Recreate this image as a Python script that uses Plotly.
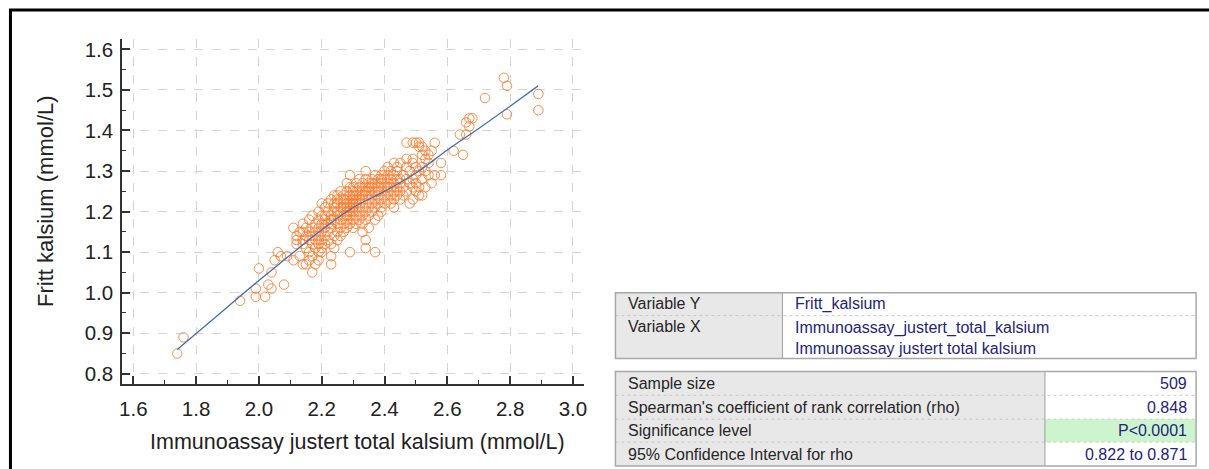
import plotly.graph_objects as go

W, H = 1209, 469

# ---- scatter data: y level (mmol/L) and the x values observed at that level ----
y_levels = [1.53, 1.51, 1.49, 1.48, 1.45, 1.44, 1.43, 1.42, 1.41, 1.39,
            1.37, 1.36, 1.35, 1.34, 1.33, 1.32, 1.31, 1.30, 1.29, 1.28,
            1.27, 1.26, 1.25, 1.24, 1.23, 1.22, 1.21, 1.20, 1.19, 1.18,
            1.17, 1.16, 1.15, 1.14, 1.13, 1.12, 1.11, 1.10, 1.09, 1.08,
            1.07, 1.06, 1.05, 1.02, 1.01, 0.99, 0.98, 0.89, 0.85]
x_at_level = [
    [2.78], [2.79], [2.89], [2.72], [2.89], [2.79], [2.67, 2.68], [2.66], [2.67],
    [2.64, 2.66],
    [2.47, 2.49, 2.50, 2.51, 2.56],
    [2.51, 2.52],
    [2.53, 2.55, 2.62],
    [2.52, 2.54, 2.65],
    [2.47, 2.49, 2.53],
    [2.43, 2.45, 2.49, 2.54, 2.58],
    [2.41, 2.44, 2.47, 2.50, 2.52],
    [2.34, 2.40, 2.42, 2.44, 2.48, 2.51, 2.53],
    [2.29, 2.37, 2.39, 2.41, 2.43, 2.46, 2.50, 2.54, 2.56, 2.58],
    [2.32, 2.34, 2.36, 2.38, 2.39, 2.40, 2.42, 2.44, 2.45, 2.47, 2.49, 2.52],
    [2.28, 2.31, 2.33, 2.35, 2.36, 2.37, 2.39, 2.41, 2.43, 2.45, 2.48, 2.50, 2.55],
    [2.29, 2.30, 2.32, 2.34, 2.35, 2.36, 2.38, 2.40, 2.41, 2.42, 2.44, 2.46, 2.49, 2.51, 2.53],
    [2.26, 2.28, 2.30, 2.31, 2.33, 2.34, 2.35, 2.37, 2.38, 2.39, 2.41, 2.43, 2.45, 2.47, 2.50],
    [2.24, 2.25, 2.27, 2.29, 2.30, 2.31, 2.32, 2.33, 2.34, 2.36, 2.38, 2.40, 2.42, 2.44, 2.46, 2.51, 2.52],
    [2.23, 2.25, 2.26, 2.27, 2.28, 2.30, 2.31, 2.32, 2.33, 2.35, 2.37, 2.39, 2.41, 2.43, 2.45, 2.49],
    [2.20, 2.22, 2.24, 2.25, 2.27, 2.28, 2.29, 2.30, 2.31, 2.32, 2.34, 2.36, 2.38, 2.40, 2.42, 2.48],
    [2.21, 2.24, 2.26, 2.27, 2.28, 2.29, 2.30, 2.31, 2.33, 2.35, 2.37, 2.39, 2.43],
    [2.19, 2.22, 2.24, 2.25, 2.26, 2.28, 2.29, 2.30, 2.32, 2.34, 2.36, 2.39],
    [2.17, 2.20, 2.21, 2.23, 2.25, 2.27, 2.28, 2.29, 2.31, 2.33, 2.35, 2.38],
    [2.16, 2.19, 2.21, 2.23, 2.24, 2.26, 2.28, 2.30, 2.32, 2.34, 2.37],
    [2.14, 2.18, 2.20, 2.22, 2.23, 2.25, 2.27, 2.29, 2.31, 2.33],
    [2.11, 2.15, 2.17, 2.19, 2.21, 2.23, 2.26, 2.28, 2.30, 2.35],
    [2.13, 2.14, 2.16, 2.18, 2.20, 2.22, 2.25, 2.27, 2.33],
    [2.12, 2.15, 2.17, 2.19, 2.21, 2.24, 2.26],
    [2.12, 2.14, 2.16, 2.18, 2.20, 2.22, 2.25, 2.34],
    [2.12, 2.14, 2.17, 2.19, 2.21, 2.23],
    [2.15, 2.18, 2.20, 2.24, 2.34],
    [2.06, 2.16, 2.19, 2.20, 2.29, 2.37],
    [2.07, 2.09, 2.13, 2.17, 2.23],
    [2.05, 2.11, 2.16, 2.19],
    [2.14, 2.15, 2.18, 2.23],
    [2.00],
    [2.04, 2.17],
    [2.03, 2.08],
    [1.99, 2.04],
    [1.99, 2.02],
    [1.94],
    [1.76],
    [1.74],
]

# ---- fitted smooth line ----
line_x = [1.74, 1.90, 2.00, 2.10, 2.20, 2.30, 2.40, 2.50, 2.60, 2.70, 2.80, 2.889]
line_y = [0.86, 0.965, 1.030, 1.093, 1.155, 1.210, 1.250, 1.295, 1.352, 1.405, 1.460, 1.510]

# ---- axes ----
x_ticks = [1.6, 1.8, 2.0, 2.2, 2.4, 2.6, 2.8, 3.0]
y_ticks = [0.8, 0.9, 1.0, 1.1, 1.2, 1.3, 1.4, 1.5, 1.6]
x_title = "Immunoassay justert total kalsium (mmol/L)"
y_title = "Fritt kalsium (mmol/L)"

# ---- tables ----
t1_labels = ["Variable Y", "Variable X"]
t1_values = ["Fritt_kalsium",
             "Immunoassay_justert_total_kalsium<br>Immunoassay justert total kalsium"]
t2_labels = ["Sample size", "Spearman's coefficient of rank correlation (rho)",
             "Significance level", "95% Confidence Interval for rho"]
t2_values = ["509", "0.848", "P<0.0001", "0.822 to 0.871"]

pts_x, pts_y = [], []
for yv, xs in zip(y_levels, x_at_level):
    for xv in xs:
        pts_x.append(xv)
        pts_y.append(yv)

FONT = "Liberation Sans, Arial, sans-serif"
AXC = "#333333"
MK = "rgba(250,122,44,0.85)"

fig = go.Figure()
fig.add_trace(go.Scatter(
    x=pts_x, y=pts_y, mode="markers",
    marker=dict(symbol="circle-open", size=9.5, color=MK,
                line=dict(width=1, color=MK)),
    showlegend=False, hoverinfo="x+y"))
fig.add_trace(go.Scatter(
    x=line_x, y=line_y, mode="lines", line=dict(color="#3d6fb6", width=1.3),
    line_shape="spline", showlegend=False))


def px(v):
    return v / W


def py(v):
    return 1 - v / H


fig.update_layout(
    width=W, height=H, margin=dict(l=0, r=0, t=0, b=0),
    paper_bgcolor="white", plot_bgcolor="white",
    font=dict(family=FONT, color="#222222"),
    xaxis=dict(domain=[px(120), px(584)], range=[1.565, 3.034],
               tickvals=x_ticks, ticktext=[f"{v:.1f}" for v in x_ticks],
               ticks="inside", ticklen=8, tickwidth=1.5, tickcolor=AXC,
               showline=True, linewidth=2, linecolor=AXC, mirror=False,
               showgrid=True, gridcolor="#d4d4d4", griddash="dash", gridwidth=1,
               zeroline=False, tickfont=dict(size=20.5, family=FONT, color="#222"),
               minor=dict(dtick=0.1, tick0=1.6, ticks="inside", ticklen=4,
                          tickcolor=AXC, tickwidth=1, showgrid=False),
               ticklabelstandoff=5, fixedrange=True),
    yaxis=dict(domain=[1 - 385 / H, 1 - 38 / H], range=[0.774, 1.626],
               tickvals=y_ticks, ticktext=[f"{v:.1f}" for v in y_ticks],
               ticks="inside", ticklen=8, tickwidth=1.5, tickcolor=AXC,
               showline=True, linewidth=2, linecolor=AXC,
               showgrid=True, gridcolor="#d4d4d4", griddash="dash", gridwidth=1,
               zeroline=False, tickfont=dict(size=20.5, family=FONT, color="#222"),
               minor=dict(dtick=0.05, tick0=0.8, ticks="inside", ticklen=4,
                          tickcolor=AXC, tickwidth=1, showgrid=False),
               ticklabelstandoff=3, fixedrange=True),
)

shapes = []
annots = []

# outer frame
shapes.append(dict(type="rect", xref="paper", yref="paper",
                   x0=px(7.5), x1=px(1230), y0=py(490), y1=py(9),
                   line=dict(color="black", width=3), fillcolor="rgba(0,0,0,0)"))

annots.append(dict(text=x_title, x=px(357), y=py(443), xref="paper", yref="paper",
                   showarrow=False, xanchor="center", yanchor="middle",
                   font=dict(size=21.5, family=FONT, color="#222")))
annots.append(dict(text=y_title, x=px(42), y=py(201), xref="paper", yref="paper",
                   showarrow=False, xanchor="center", yanchor="middle", textangle=-90,
                   font=dict(size=22, family=FONT, color="#222")))

BORDER = "#a8a8a8"
GRAYFILL = "#e8e8e8"
TXT = "#262626"
VAL = "#24247a"
TFONT = 16


def rect(x0, y0, x1, y1, fill, line_color=None, lw=0):
    shapes.append(dict(type="rect", xref="paper", yref="paper", layer="below",
                       x0=px(x0), x1=px(x1), y0=py(y1), y1=py(y0),
                       fillcolor=fill,
                       line=dict(color=line_color or fill, width=lw)))


def hline(x0, x1, y, color, dash="solid", w=1):
    shapes.append(dict(type="line", xref="paper", yref="paper",
                       x0=px(x0), x1=px(x1), y0=py(y), y1=py(y),
                       line=dict(color=color, width=w, dash=dash)))


def vline(x, y0, y1, color, w=1):
    shapes.append(dict(type="line", xref="paper", yref="paper",
                       x0=px(x), x1=px(x), y0=py(y0), y1=py(y1),
                       line=dict(color=color, width=w)))


def text(s, x, y, anchor="left", color=TXT):
    annots.append(dict(text=s, x=px(x), y=py(y), xref="paper", yref="paper",
                       showarrow=False, xanchor=anchor, yanchor="middle", align=anchor,
                       font=dict(size=TFONT, family=FONT, color=color)))


# table 1
T1L, T1D, T1R, T1T, T1B = 616, 784, 1200, 293, 359
rect(T1L, T1T, T1D, T1B, GRAYFILL)
rect(T1D, T1T, T1R, T1B, "white")
hline(T1L, T1R, 316, "#c8c8c8", dash="dot")
vline(T1D, T1T, T1B, BORDER, 1.2)
shapes.append(dict(type="rect", xref="paper", yref="paper",
                   x0=px(T1L), x1=px(T1R), y0=py(T1B), y1=py(T1T),
                   line=dict(color=BORDER, width=1.5), fillcolor="rgba(0,0,0,0)"))
text(t1_labels[0], 627, 304)
text(t1_labels[1], 627, 327)
text(t1_values[0], 795, 304, color=VAL)
annots.append(dict(text=t1_values[1], x=px(795), y=py(338), xref="paper", yref="paper",
                   showarrow=False, xanchor="left", yanchor="middle", align="left",
                   font=dict(size=TFONT, family=FONT, color=VAL)))

# table 2
T2L, T2D, T2R, T2T, T2B = 616, 1048, 1200, 372, 467
row_edges = [372, 396, 420, 443, 467]
rect(T2L, T2T, T2D, T2B, GRAYFILL)
rect(T2D, T2T, T2R, T2B, "white")
rect(T2D, row_edges[2], T2R, row_edges[3], "#cdf5cd")
for e in row_edges[1:-1]:
    hline(T2L, T2R, e, "#c8c8c8", dash="dot")
vline(T2D, T2T, T2B, BORDER, 1.2)
shapes.append(dict(type="rect", xref="paper", yref="paper",
                   x0=px(T2L), x1=px(T2R), y0=py(T2B), y1=py(T2T),
                   line=dict(color=BORDER, width=1.5), fillcolor="rgba(0,0,0,0)"))
for i in range(4):
    yc = (row_edges[i] + row_edges[i + 1]) / 2
    text(t2_labels[i], 627, yc)
    text(t2_values[i], 1193, yc, anchor="right", color=VAL)

fig.update_layout(shapes=shapes, annotations=annots)
fig.write_html("out.html")
